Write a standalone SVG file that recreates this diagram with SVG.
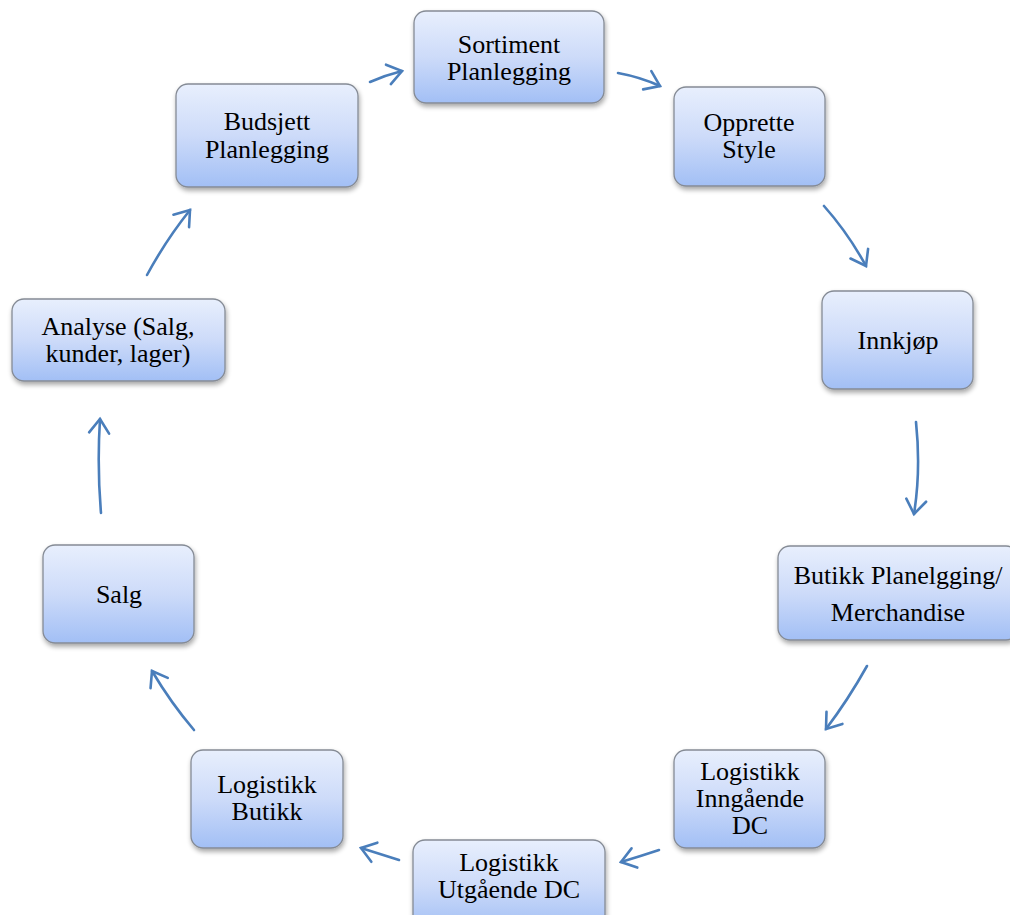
<svg xmlns="http://www.w3.org/2000/svg" width="1010" height="915" viewBox="0 0 1010 915">
  <style>
    .box { fill: url(#boxFill); stroke: #858b95; stroke-width: 1.3; filter: url(#shadow); }
    .lbl { font-family: "Liberation Serif", "Times New Roman", serif; font-size: 26px; fill: #000; text-anchor: middle; }
    .arrow { fill: none; stroke: #4a7ebb; stroke-width: 2.6; stroke-linecap: round; marker-end: url(#chevron); }
  </style>
  <defs>
    <linearGradient id="boxFill" x1="0" y1="0" x2="0" y2="1">
      <stop offset="0" stop-color="#e8effd"/>
      <stop offset="0.5" stop-color="#cddbf9"/>
      <stop offset="1" stop-color="#a2bff5"/>
    </linearGradient>
    <filter id="shadow" x="-10%" y="-10%" width="125%" height="130%">
      <feGaussianBlur in="SourceAlpha" stdDeviation="2.5"/>
      <feOffset dx="1" dy="3" result="b"/>
      <feComponentTransfer><feFuncA type="linear" slope="0.35"/></feComponentTransfer>
      <feMerge><feMergeNode/><feMergeNode in="SourceGraphic"/></feMerge>
    </filter>
    <!-- open chevron arrowhead -->
    <marker id="chevron" viewBox="0 0 12 12" refX="10" refY="6" markerWidth="12" markerHeight="12" orient="auto" markerUnits="userSpaceOnUse" overflow="visible">
      <path d="M-4,-4 L10,6 L-4,16" fill="none" stroke="#4a7ebb" stroke-width="2.6" stroke-linecap="round" stroke-linejoin="miter"/>
    </marker>
  </defs>

  <rect width="1010" height="915" fill="#ffffff"/>

  <g id="connectors">
    <path class="arrow" d="M370,82 Q386,75 402,71"/>
    <path class="arrow" d="M618,73 Q640,77 660,86"/>
    <path class="arrow" d="M824,206 Q848,233 866,266"/>
    <path class="arrow" d="M916,422 Q921,470 914,514"/>
    <path class="arrow" d="M867,666 Q848,700 826,729"/>
    <path class="arrow" d="M659,850 Q641,856 621,862"/>
    <path class="arrow" d="M399,860 Q380,854 361,848"/>
    <path class="arrow" d="M194,730 Q171,703 152,671"/>
    <path class="arrow" d="M101,513 Q97,466 100,419"/>
    <path class="arrow" d="M147,275 Q166,240 190,210"/>
  </g>

  <g id="sortiment">
    <rect class="box" x="414" y="11" width="190" height="92" rx="12"/>
    <text class="lbl" x="509" y="53">Sortiment</text>
    <text class="lbl" x="509" y="80">Planlegging</text>
  </g>
  <g id="opprette">
    <rect class="box" x="674" y="87" width="151" height="99" rx="12"/>
    <text class="lbl" x="749" y="131">Opprette</text>
    <text class="lbl" x="749" y="158">Style</text>
  </g>
  <g id="innkjop">
    <rect class="box" x="822" y="291" width="151" height="98" rx="12"/>
    <text class="lbl" x="898" y="349">Innkjøp</text>
  </g>
  <g id="butikk-planlegging">
    <rect class="box" x="778" y="546" width="240" height="94" rx="12"/>
    <text class="lbl" x="898" y="584">Butikk Planelgging/</text>
    <text class="lbl" x="898" y="621">Merchandise</text>
  </g>
  <g id="logistikk-inngaende">
    <rect class="box" x="674" y="750" width="151" height="98" rx="12"/>
    <text class="lbl" x="750" y="780">Logistikk</text>
    <text class="lbl" x="750" y="807">Inngående</text>
    <text class="lbl" x="750" y="834">DC</text>
  </g>
  <g id="logistikk-utgaende">
    <rect class="box" x="413" y="840" width="192" height="90" rx="12"/>
    <text class="lbl" x="509" y="871">Logistikk</text>
    <text class="lbl" x="509" y="898">Utgående DC</text>
  </g>
  <g id="logistikk-butikk">
    <rect class="box" x="191" y="750" width="152" height="98" rx="12"/>
    <text class="lbl" x="267" y="793">Logistikk</text>
    <text class="lbl" x="267" y="820">Butikk</text>
  </g>
  <g id="salg">
    <rect class="box" x="43" y="545" width="151" height="98" rx="12"/>
    <text class="lbl" x="119" y="603">Salg</text>
  </g>
  <g id="analyse">
    <rect class="box" x="12" y="299" width="213" height="82" rx="12"/>
    <text class="lbl" x="118" y="335">Analyse (Salg,</text>
    <text class="lbl" x="118" y="362">kunder, lager)</text>
  </g>
  <g id="budsjett">
    <rect class="box" x="176" y="84" width="182" height="103" rx="12"/>
    <text class="lbl" x="267" y="130">Budsjett</text>
    <text class="lbl" x="267" y="158">Planlegging</text>
  </g>
</svg>
